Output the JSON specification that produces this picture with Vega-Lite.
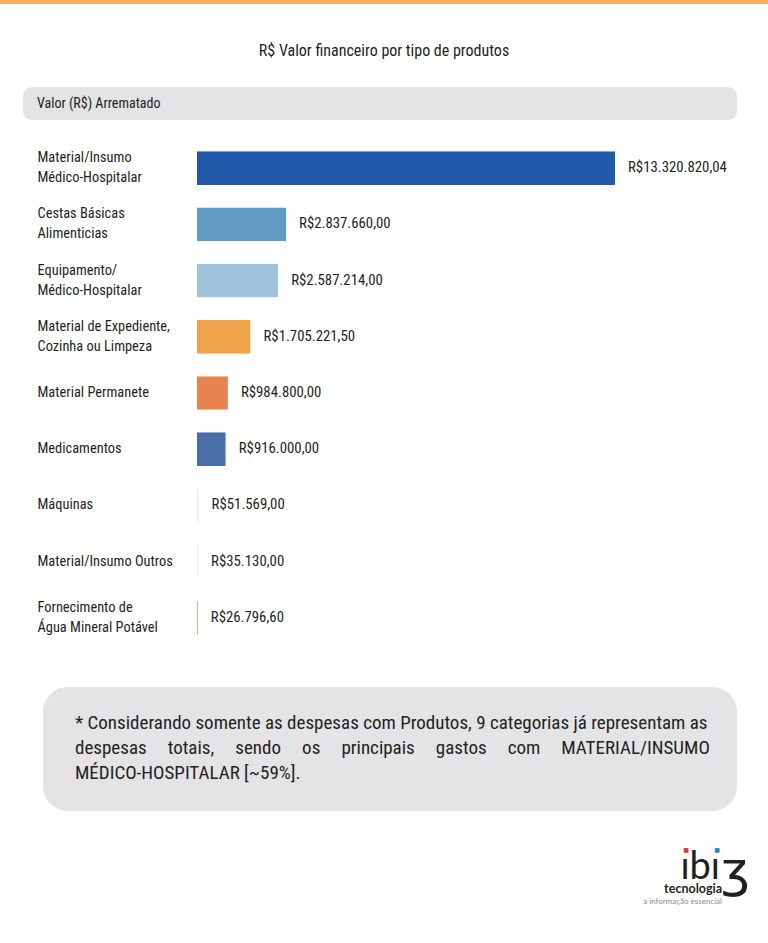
{
  "$schema": "https://vega.github.io/schema/vega-lite/v6.json",
  "background": "white",
  "padding": 0,
  "spacing": 0,
  "config": {
    "view": {"stroke": null},
    "concat": {"spacing": 0},
    "font": "Roboto Condensed, Roboto, sans-serif",
    "locale": {"number": {"decimal": ",", "thousands": ".", "grouping": [3], "currency": ["R$", ""]}}
  },
  "datasets": {
    "bars": [
      {"cat": "Material/Insumo|Médico-Hospitalar", "value": 13320820.04},
      {"cat": "Cestas Básicas|Alimenticias", "value": 2837660.00},
      {"cat": "Equipamento/|Médico-Hospitalar", "value": 2587214.00},
      {"cat": "Material de Expediente,|Cozinha ou Limpeza", "value": 1705221.50},
      {"cat": "Material Permanete", "value": 984800.00},
      {"cat": "Medicamentos", "value": 916000.00},
      {"cat": "Máquinas", "value": 51569.00},
      {"cat": "Material/Insumo Outros", "value": 35130.00},
      {"cat": "Fornecimento de|Água Mineral Potável", "value": 26796.60}
    ]
  },
  "vconcat": [
    {
      "width": 768, "height": 4,
      "view": {"fill": "#fbb062", "stroke": null},
      "data": {"values": [{}]},
      "mark": {"type": "text", "text": "", "fontSize": 0}
    },
    {
      "width": 768, "height": 83,
      "data": {"values": [{"t": "R$ Valor financeiro por tipo de produtos"}]},
      "mark": {"type": "text", "fontSize": 16, "baseline": "middle", "dy": 5, "color": "#231f20", "font": "Roboto Condensed, Roboto, sans-serif"},
      "encoding": {"text": {"field": "t"}}
    },
    {
      "hconcat": [
        {"width": 23, "height": 33, "data": {"values": [{}]}, "mark": {"type": "text", "text": "", "fontSize": 0}},
        {
          "width": 714, "height": 33,
          "view": {"fill": "#e4e4e6", "cornerRadius": 9, "stroke": null},
          "data": {"values": [{"t": "Valor (R$) Arrematado"}]},
          "mark": {"type": "text", "align": "left", "baseline": "middle", "dx": -343, "fontSize": 14, "color": "#231f20", "font": "Roboto Condensed, Roboto, sans-serif"},
          "encoding": {"text": {"field": "t"}}
        }
      ]
    },
    {"width": 1, "height": 20, "data": {"values": [{}]}, "mark": {"type": "text", "text": "", "fontSize": 0}},
    {
      "hconcat": [
        {"width": 37, "height": 1, "data": {"values": [{}]}, "mark": {"type": "text", "text": "", "fontSize": 0}},
        {
          "width": 418, "height": 506,
          "data": {"name": "bars"},
          "encoding": {
            "y": {
              "field": "cat", "type": "nominal", "sort": null,
              "scale": {"paddingInner": 0.4, "paddingOuter": 0.2},
              "axis": {
                "title": null, "domain": false, "ticks": false, "labelAlign": "left", "labelPadding": 160,
                "labelExpr": "split(datum.value, '|')", "labelLineHeight": 20, "labelFontSize": 14.4,
                "labelOffset": {"condition": {"test": "indexof(datum.value, '|') >= 0", "value": -10}, "value": 0},
                "labelFont": "Roboto Condensed, Roboto, sans-serif", "labelColor": "#231f20", "labelLimit": 200
              }
            },
            "x": {"field": "value", "type": "quantitative", "scale": {"domain": [0, 13320820.04]}, "axis": null}
          },
          "layer": [
            {
              "mark": {"type": "bar", "cornerRadius": {"expr": "datum.value > 2000000 ? 7 : 0"}},
              "encoding": {
                "color": {
                  "field": "cat", "type": "nominal", "legend": null,
                  "scale": {
                    "domain": ["Material/Insumo|Médico-Hospitalar", "Cestas Básicas|Alimenticias", "Equipamento/|Médico-Hospitalar", "Material de Expediente,|Cozinha ou Limpeza", "Material Permanete", "Medicamentos", "Máquinas", "Material/Insumo Outros", "Fornecimento de|Água Mineral Potável"],
                    "range": ["#2059a8", "#5f9bc4", "#9ec3dd", "#f0a24b", "#e8824f", "#4a6fa8", "#e6ecf2", "#ececec", "#e8824f"]
                  }
                }
              }
            },
            {
              "mark": {"type": "text", "align": "left", "baseline": "middle", "dx": 13, "fontSize": 14.8, "font": "Roboto Condensed, Roboto, sans-serif", "color": "#231f20"},
              "encoding": {"text": {"field": "value", "type": "quantitative", "format": "$,.2f"}}
            }
          ]
        }
      ]
    },
    {"width": 1, "height": 41, "data": {"values": [{}]}, "mark": {"type": "text", "text": "", "fontSize": 0}},
    {
      "hconcat": [
        {"width": 43, "height": 124, "data": {"values": [{}]}, "mark": {"type": "text", "text": "", "fontSize": 0}},
        {
          "width": 694, "height": 124,
          "view": {"fill": "#e4e4e6", "cornerRadius": 25, "stroke": null},
          "data": {"values": [{"t": ["* Considerando somente as despesas com Produtos, 9 categorias já representam as", "despesas\u00a0\u00a0\u00a0\u2009 totais,\u00a0\u00a0\u00a0\u2009 sendo\u00a0\u00a0\u00a0\u2009 os\u00a0\u00a0\u00a0\u2009 principais\u00a0\u00a0\u00a0\u2009 gastos\u00a0\u00a0\u00a0\u2009 com\u00a0\u00a0\u00a0\u2009 MATERIAL/INSUMO", "MÉDICO-HOSPITALAR [~59%]."]}]},
          "mark": {"type": "text", "align": "left", "baseline": "top", "dx": -315, "dy": -35, "lineHeight": 25, "fontSize": 19, "color": "#231f20", "font": "Roboto Condensed, Roboto, sans-serif"},
          "encoding": {"text": {"field": "t"}}
        }
      ]
    },
    {"width": 1, "height": 31, "data": {"values": [{}]}, "mark": {"type": "text", "text": "", "fontSize": 0}},
    {
      "hconcat": [
        {"width": 640, "height": 70, "data": {"values": [{}]}, "mark": {"type": "text", "text": "", "fontSize": 0}},
        {
          "width": 110, "height": 70,
          "data": {"values": [{}]},
          "layer": [
            {"mark": {"type": "text", "text": "ıbı", "align": "right", "baseline": "alphabetic", "dx": 25, "dy": 2, "fontSize": 38, "font": "Lato", "color": "#231f20"}},
            {"mark": {"type": "text", "text": "ʒ", "align": "left", "baseline": "alphabetic", "dx": 26, "dy": 10, "fontSize": 50, "font": "DejaVu Sans", "color": "#231f20"}},
            {"mark": {"type": "text", "text": "■", "align": "center", "baseline": "middle", "dx": -9, "dy": -27, "fontSize": 6, "font": "DejaVu Sans", "color": "#e0324b"}},
            {"mark": {"type": "text", "text": "■", "align": "center", "baseline": "middle", "dx": 22, "dy": -27, "fontSize": 6, "font": "DejaVu Sans", "color": "#2f7fc1"}},
            {"mark": {"type": "text", "text": "tecnologia", "align": "right", "baseline": "middle", "dx": 27, "dy": 12, "fontSize": 12.5, "fontWeight": "bold", "font": "Lato", "color": "#231f20"}},
            {"mark": {"type": "text", "text": "a informação essencial", "align": "right", "baseline": "middle", "dx": 27, "dy": 25, "fontSize": 8, "font": "Lato", "color": "#8a8a8a"}}
          ]
        }
      ]
    }
  ]
}
